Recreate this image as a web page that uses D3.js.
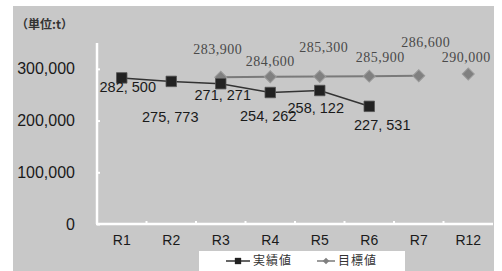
<!DOCTYPE html>
<html>
<head>
<meta charset="utf-8">
<script src="https://cdn.jsdelivr.net/npm/d3@7"></script>
<style>
  body { margin: 0; background: #fff; }
  svg { display: block; }
</style>
</head>
<body>
<svg width="502" height="271"></svg>
<script>
'use strict';

// data
const categories = ["R1", "R2", "R3", "R4", "R5", "R6", "R7", "R12"];
const actualCats = ["R1", "R2", "R3", "R4", "R5", "R6"];
const actualValues = [282500, 275773, 271271, 254262, 258122, 227531];
const targetCats = ["R3", "R4", "R5", "R6", "R7", "R12"];
const targetValues = [283900, 284600, 285300, 285900, 286600, 290000];
const yTicks = [0, 100000, 200000, 300000];
const seriesNames = ["実績値", "目標値"];

// label placement (px offsets from the point)
const actualOffsets = [[6, 9], [-1, 36], [2, 11], [-2, 23], [-4, 17], [13, 19]];
const targetOffsets = [[-3, -28], [0, -16], [4, -29], [11, -19], [7, -34], [-2, -17]];

let svg = d3.select("svg");

svg.append("rect")
    .attr("x", 13).attr("y", 6)
    .attr("width", 481).attr("height", 265)
    .attr("fill", "#c8c8c8");

let x = d3.scaleBand().domain(categories).range([97, 493]);
let y = d3.scaleLinear().domain([0, 350000]).range([224, 43]);

function cx(c) {
    return x(c) + x.bandwidth() / 2;
}

// y axis
let yAxis = svg.append("g").attr("transform", "translate(97,0)")
    .call(d3.axisRight(y).tickValues(yTicks).tickSize(3).tickFormat(""));
yAxis.select(".domain").remove();
yAxis.selectAll("line").attr("stroke", "#fff").attr("stroke-width", 2);
svg.append("line")
    .attr("x1", 97).attr("x2", 97)
    .attr("y1", y(350000)).attr("y2", y(0))
    .attr("stroke", "#fff").attr("stroke-width", 2.5);

svg.selectAll(".ylab").data(yTicks).enter().append("text")
    .attr("class", "ylab")
    .attr("x", 75)
    .attr("y", function (d) { return y(d); })
    .attr("dy", "0.35em")
    .attr("text-anchor", "end")
    .attr("font-family", "Liberation Sans, Arial, sans-serif")
    .attr("font-size", 16)
    .attr("fill", "#1a1a1a")
    .text(function (d) { return d3.format(",")(d); });

// x axis
svg.append("line")
    .attr("x1", 96).attr("x2", 493)
    .attr("y1", y(0)).attr("y2", y(0))
    .attr("stroke", "#fff").attr("stroke-width", 2.5);
svg.selectAll(".xtick").data(categories.slice(1)).enter().append("line")
    .attr("class", "xtick")
    .attr("x1", function (d) { return x(d); })
    .attr("x2", function (d) { return x(d); })
    .attr("y1", y(0)).attr("y2", y(0) - 3)
    .attr("stroke", "#fff").attr("stroke-width", 2);
svg.selectAll(".xlab").data(categories).enter().append("text")
    .attr("class", "xlab")
    .attr("x", cx)
    .attr("y", 240)
    .attr("dy", "0.35em")
    .attr("text-anchor", "middle")
    .attr("font-family", "Liberation Sans Narrow, Liberation Sans, Arial, sans-serif")
    .attr("font-size", 14)
    .attr("fill", "#1a1a1a")
    .text(function (d) { return d; });

// unit label
svg.append("text")
    .attr("x", 16).attr("y", 25)
    .attr("dy", "0.35em")
    .attr("font-family", "Noto Sans CJK JP, sans-serif")
    .attr("font-size", 12)
    .attr("font-weight", "bold")
    .attr("fill", "#333")
    .text("（単位:t）");

let actual = actualCats.map(function (c, i) { return {c: c, v: actualValues[i], o: actualOffsets[i]}; });
let target = targetCats.map(function (c, i) { return {c: c, v: targetValues[i], o: targetOffsets[i]}; });

let line = d3.line()
    .x(function (d) { return cx(d.c); })
    .y(function (d) { return y(d.v); });

// target line (R12 not connected)
svg.append("path")
    .datum(target.filter(function (d) { return d.c !== "R12"; }))
    .attr("d", line)
    .attr("fill", "none")
    .attr("stroke", "#7a7a7a")
    .attr("stroke-width", 2);

svg.append("path")
    .datum(actual)
    .attr("d", line)
    .attr("fill", "none")
    .attr("stroke", "#333")
    .attr("stroke-width", 1.5);

let diamond = d3.symbol().type(d3.symbolSquare).size(72);
let square = d3.symbol().type(d3.symbolSquare).size(110);

svg.selectAll(".tpt").data(target).enter().append("path")
    .attr("class", "tpt")
    .attr("d", diamond)
    .attr("transform", function (d) { return "translate(" + cx(d.c) + "," + y(d.v) + ") rotate(45)"; })
    .attr("fill", "#808080")
    .attr("stroke", "#9a9a9a")
    .attr("stroke-width", 1);

svg.selectAll(".apt").data(actual).enter().append("path")
    .attr("class", "apt")
    .attr("d", square)
    .attr("transform", function (d) { return "translate(" + cx(d.c) + "," + y(d.v) + ")"; })
    .attr("fill", "#222")
    .attr("stroke", "#555")
    .attr("stroke-width", 0.8);

// labels
svg.selectAll(".tlab").data(target).enter().append("text")
    .attr("class", "tlab")
    .attr("x", function (d) { return cx(d.c) + d.o[0]; })
    .attr("y", function (d) { return y(d.v) + d.o[1]; })
    .attr("dy", "0.35em")
    .attr("text-anchor", "middle")
    .attr("font-family", "Liberation Serif, Times New Roman, serif")
    .attr("font-size", 14)
    .attr("letter-spacing", 0.5)
    .attr("fill", "#4a4a4a")
    .text(function (d) { return d3.format(",")(d.v); });

svg.selectAll(".alab").data(actual).enter().append("text")
    .attr("class", "alab")
    .attr("x", function (d) { return cx(d.c) + d.o[0]; })
    .attr("y", function (d) { return y(d.v) + d.o[1]; })
    .attr("dy", "0.35em")
    .attr("text-anchor", "middle")
    .attr("font-family", "Liberation Sans, Arial, sans-serif")
    .attr("font-size", 14.5)
    .attr("fill", "#1a1a1a")
    .text(function (d) { return d3.format(",")(d.v).replace(",", ", "); });

// legend
let legend = svg.append("g");
legend.append("rect")
    .attr("x", 199).attr("y", 251)
    .attr("width", 206).attr("height", 20)
    .attr("fill", "#fff");

let items = [
    {name: seriesNames[0], x: 226, sym: d3.symbol().type(d3.symbolSquare).size(40), rot: 0, fill: "#222", stroke: "#333", lw: 24},
    {name: seriesNames[1], x: 317, sym: d3.symbol().type(d3.symbolSquare).size(22), rot: 45, fill: "#808080", stroke: "#7a7a7a", lw: 18}
];
let ly = 261;
items.forEach(function (it) {
    legend.append("line")
        .attr("x1", it.x).attr("x2", it.x + it.lw)
        .attr("y1", ly).attr("y2", ly)
        .attr("stroke", it.stroke).attr("stroke-width", 1.5);
    legend.append("path")
        .attr("d", it.sym)
        .attr("transform", "translate(" + (it.x + it.lw / 2) + "," + ly + ") rotate(" + it.rot + ")")
        .attr("fill", it.fill);
    legend.append("text")
        .attr("x", it.x + it.lw + 3)
        .attr("y", ly)
        .attr("dy", "0.35em")
        .attr("font-family", "Noto Sans CJK JP, sans-serif")
        .attr("font-size", 12)
        .attr("letter-spacing", 1)
        .attr("fill", "#333")
        .text(it.name);
});
</script>
</body>
</html>
